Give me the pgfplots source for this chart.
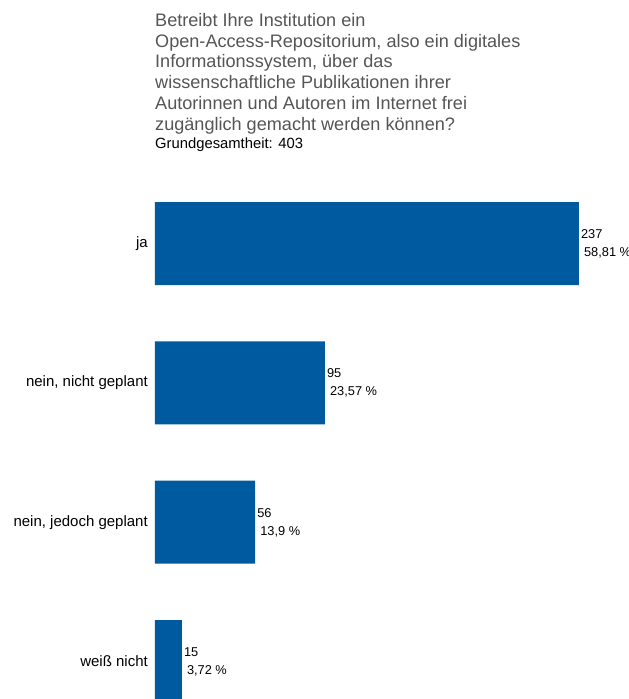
\documentclass[border=0pt]{standalone}
\usepackage{fontspec}
\setmainfont{Liberation Sans}
\usepackage{pgfplots}
\usepackage{pgfplotstable}
\pgfplotsset{compat=1.18}
\definecolor{barblue}{RGB}{0,90,160}
\definecolor{titlegray}{RGB}{85,85,85}
\pgfplotstableread[col sep=semicolon]{
y;n;p
0;237;58,81 \%
1;95;23,57 \%
2;56;13,9 \%
3;15;3,72 \%
}\data
\begin{document}
\begin{tikzpicture}
\useasboundingbox (0,0) rectangle (629pt,-699pt);
\clip (0,0) rectangle (629pt,-699pt);
\begin{scope}[every node/.style={inner sep=0pt, text=titlegray, font=\fontsize{18.1}{21}\selectfont}]
\node[anchor=base west] at (155pt,-26.5pt) {Betreibt Ihre Institution ein};
\node[anchor=base west] at (155pt,-47.2pt) {Open-Access-Repositorium, also ein digitales};
\node[anchor=base west] at (155pt,-67.9pt) {Informationssystem, über das};
\node[anchor=base west] at (155pt,-88.6pt) {wissenschaftliche Publikationen ihrer};
\node[anchor=base west] at (155pt,-109.3pt) {Autorinnen und Autoren im Internet frei};
\node[anchor=base west] at (155pt,-130pt) {zugänglich gemacht werden können?};
\end{scope}
\node[anchor=base west, inner sep=0pt, font=\fontsize{14.8}{17}\selectfont] at (155pt,-148pt) {Grundgesamtheit: 403};
\begin{axis}[
  at={(155pt,-173.85pt)}, anchor=north west,
  scale only axis, width=474pt, height=557.3pt,
  xmin=0, xmax=265, ymin=-0.5, ymax=3.5,
  y dir=reverse,
  axis line style={draw=none},
  tick style={draw=none},
  xtick=\empty,
  ytick={0,1,2,3},
  yticklabels={ja,{nein, nicht geplant},{nein, jedoch geplant},weiß nicht},
  yticklabel style={inner sep=0pt, xshift=-7pt, font=\fontsize{15}{18}\selectfont},
  clip=false,
]
\addplot[xbar, bar width=83pt, fill=barblue, draw=none] table[x=n, y=y] {\data};
\addplot[draw=none, mark=none, nodes near coords, point meta=explicit symbolic,
  every node near coord/.style={anchor=west, inner sep=0pt, xshift=2pt, yshift=9.5pt, font=\fontsize{12.8}{15}\selectfont, text=black}]
  table[x=n, y=y, meta=n] {\data};
\addplot[draw=none, mark=none, nodes near coords, point meta=explicit symbolic,
  every node near coord/.style={anchor=west, inner sep=0pt, xshift=5pt, yshift=-9.5pt, font=\fontsize{12.8}{15}\selectfont, text=black}]
  table[x=n, y=y, meta=p] {\data};
\end{axis}
\end{tikzpicture}
\end{document}
